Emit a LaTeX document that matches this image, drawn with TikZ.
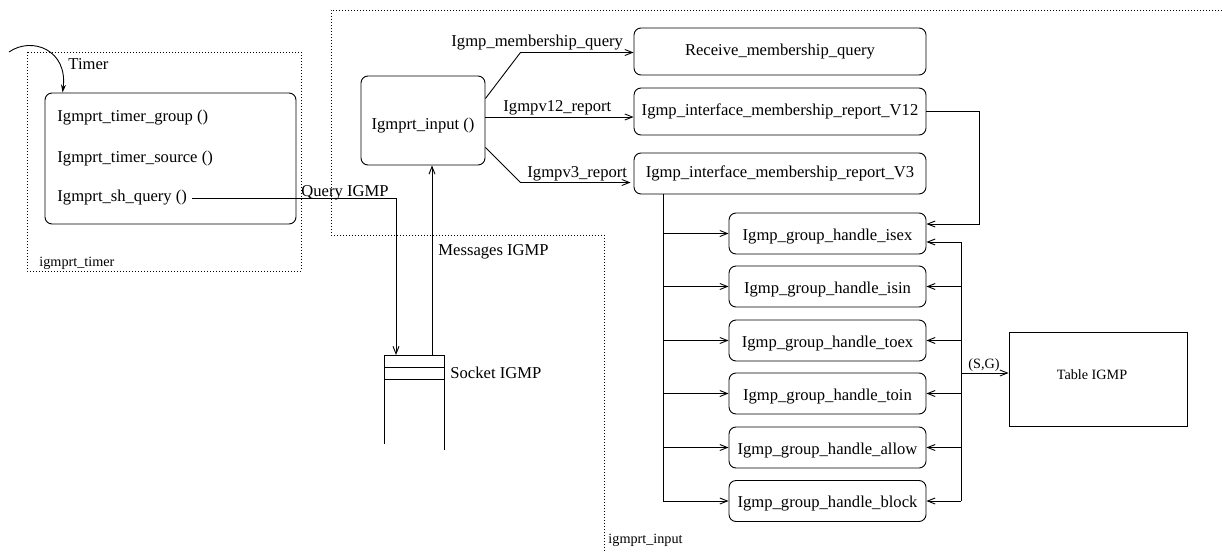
\documentclass[tikz,border=0pt]{standalone}
\usepackage{fontspec}
\setmainfont{Liberation Serif}
\usetikzlibrary{arrows.meta,calc}
\begin{document}
\begin{tikzpicture}[x=1pt,y=-1pt,line width=0.9pt,
  every node/.style={inner sep=0pt,font=\rmfamily\fontsize{16.6}{19}\selectfont},
  procbox/.style={draw,rounded corners=7pt,minimum width=#1},
  grpbox/.style={procbox=197pt,minimum height=41pt,text height=17pt,text depth=3.6pt},
  arr/.style={-{Straight Barb[length=7.5pt,width=6pt]}},
  bound/.style={line width=0.8pt,dash pattern=on 0.8pt off 2.2pt},
  small/.style={font=\rmfamily\fontsize{14.2}{17}\selectfont}]
\useasboundingbox (0,0) rectangle (1222,551);

% boundaries
\draw[bound] (27,52) rectangle (301,271);
\node[small,anchor=base west] (ltimer) at (39,266) {igmprt\_timer};
\draw[bound] (1222,10) -- (331,10) -- (331,235) -- (604,235) -- (604,551);
\node[small,anchor=base west] (linput) at (608,543) {igmprt\_input};

% timer box
\node[procbox=251pt,minimum height=131pt] (timer) at (170.5,158.5) {};
\node[anchor=west] (tg) at (57,118) {Igmprt\_timer\_group ()};
\node[anchor=west] (ts) at (57,159) {Igmprt\_timer\_source ()};
\node[anchor=west] (tq) at (57,198) {Igmprt\_sh\_query ()};
\draw[-{Stealth[length=8pt,width=5pt]}] (9,52) .. controls (32,36) and (68,50) .. ([xshift=18pt]timer.north west);
\node[anchor=base west] (ltim) at (68,70) {Timer};

% input
\node[procbox=124pt,minimum height=89pt,text height=21.5pt,text depth=3.6pt] (input) at (423,120.5) {Igmprt\_input ()};

% right boxes
\node[procbox=292pt,minimum height=47pt] (recv) at (780,51.5) {Receive\_membership\_query};
\node[procbox=292pt,minimum height=47pt] (v12) at (780,111.5) {Igmp\_interface\_membership\_report\_V12};
\node[procbox=292pt,minimum height=41pt] (v3) at (780,173.5) {Igmp\_interface\_membership\_report\_V3};

\node[grpbox] (isex) at (827.5,233.5) {Igmp\_group\_handle\_isex};
\node[grpbox] (isin) at (827.5,286.5) {Igmp\_group\_handle\_isin};
\node[grpbox] (toex) at (827.5,340.5) {Igmp\_group\_handle\_toex};
\node[grpbox] (toin) at (827.5,393.5) {Igmp\_group\_handle\_toin};
\node[grpbox] (allow) at (827.5,447.5) {Igmp\_group\_handle\_allow};
\node[grpbox] (block) at (827.5,501) {Igmp\_group\_handle\_block};

\node[draw,minimum width=178pt,minimum height=94pt] (table) at (1098,379) {};
\node[small,text height=5pt,text depth=5pt] (tablelbl) at (1092,379) {Table IGMP};

% socket
\coordinate (sTL) at (384,355);
\coordinate (sTR) at (444,355);
\draw (sTL) -- (sTR);
\draw ($(sTL)+(0,12)$) -- ($(sTR)+(0,12)$);
\draw ($(sTL)+(0,24)$) -- ($(sTR)+(0,24)$);
\draw (sTL) -- ++(0,89);
\draw (sTR) -- ++(0,95);
\node[anchor=west] (lsock) at (450,373) {Socket IGMP};
\coordinate (sq) at (396,355);
\coordinate (sm) at (432,355);

% timer -> socket
\draw[arr] ([xshift=5pt]tq.east) -| (sq);
\node[anchor=base west] (lq) at (301,196) {Query IGMP};
% socket -> input
\draw[arr] (sm) -- (sm |- input.south);
\node[anchor=west] (lm) at (438,252) {Messages IGMP};

% input -> right boxes
\draw[arr] ([yshift=22pt]input.east) -- ++(35,-46) coordinate (c1) -- (c1 -| recv.west);
\node[anchor=base west] (l1) at (451,46) {Igmp\_membership\_query};
\draw[arr] ([yshift=3.5pt]input.east) coordinate (c2) -- (c2 -| v12.west);
\node[anchor=base west] (l2) at (503,111) {Igmpv12\_report};
\draw[arr] ([yshift=-27pt]input.east) -- ++(35,35) coordinate (c3) -- ([xshift=-3pt]c3 -| v3.west);
\node[anchor=base west] (l3) at (527,177) {Igmpv3\_report};

% v3 fan-out
\coordinate (vb) at ([xshift=-117pt]v3.south);
\draw (vb) -- (vb |- block.west);
\foreach \n in {isex,isin,toex,toin,allow,block}
  \draw[arr] (vb |- \n.west) -- (\n.west);

% v12 -> isex
\draw[arr] (v12.east) -- ++(53,0) |- ([yshift=9.5pt]isex.east);

% bus to table
\coordinate (bus) at (961,373);
\coordinate (isexin) at ([yshift=-8.5pt]isex.east);
\draw (bus |- isexin) -- (bus |- block.east);
\draw[arr] (bus |- isexin) -- (isexin);
\foreach \n in {isin,toex,toin,allow,block}
  \draw[arr] (bus |- \n.east) -- (\n.east);
\draw[arr] (bus) -- (bus -| table.west);
\node[small,anchor=base] (lsg) at (984,368) {(S,G)};
\end{tikzpicture}
\end{document}
